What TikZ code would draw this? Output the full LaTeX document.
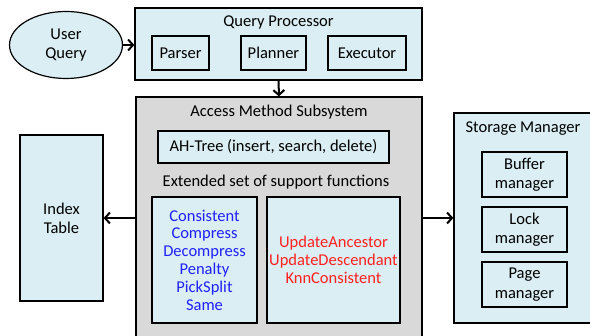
\documentclass[tikz,border=0pt]{standalone}
\usepackage{fontspec}
\setmainfont{Carlito}
\usetikzlibrary{arrows.meta}
\usetikzlibrary{shapes.geometric}
\usetikzlibrary{positioning}
\definecolor{paleblue}{HTML}{DAEEF3}
\definecolor{panelgray}{HTML}{D9D9D9}
\definecolor{fnblue}{HTML}{2020FF}
\definecolor{fnred}{HTML}{FF2020}

\begin{document}
\begin{tikzpicture}[x=1pt,y=-1pt,
	box/.style={draw,line width=1.2pt,fill=paleblue,inner sep=0pt,align=center},
	flow/.style={-{Straight Barb[length=5pt,width=11pt]},line width=2pt},
	font=\fontsize{16.5}{17.8}\selectfont]
	
	\clip (0,0) rectangle (590,336);
	
	\node [box,ellipse,minimum width=113,minimum height=67] (uq) at (66,45) {User\\[1pt]Query};
	
	\node [box,minimum width=287,minimum height=72] (qp) at (278.5,44) {};
	\node [] (qptitle) at (278.5,22) {Query Processor};
	\node [box,minimum width=57,minimum height=34] (parser) at (180.5,53) {Parser};
	\node [box,minimum width=65,minimum height=34] (planner) at (273.5,53) {Planner};
	\node [box,minimum width=78,minimum height=34] (executor) at (367,53) {Executor};
	
	\node [box,fill=panelgray,minimum width=286,minimum height=248] (ams) at (279,221) {};
	\node [] (amstitle) at (279,112) {Access Method Subsystem};
	\node [box,minimum width=231,minimum height=32] (ahtree) at (273.5,147) {AH-Tree (insert, search, delete)};
	\node [] (exttitle) at (276,182) {Extended set of support functions};
	\node [box,minimum width=105,minimum height=126,text=fnblue] (basefn) at (204.5,260)
		{Consistent\\Compress\\Decompress\\Penalty\\PickSplit\\Same};
	\node [box,minimum width=133,minimum height=126,text=fnred] (extfn) at (333.5,260)
		{UpdateAncestor\\UpdateDescendant\\KnnConsistent};
	
	\node [box,minimum width=83,minimum height=166] (idx) at (61.5,218) {Index\\[1.5pt]Table};
	
	\node [box,minimum width=141,minimum height=210] (sm) at (524.5,218) {};
	\node [] (smtitle) at (523,129) {Storage Manager};
	\node [box,minimum width=85,minimum height=45] (buffer) at (524.5,174.5) {Buffer\\[1.5pt]manager};
	\node [box,minimum width=85,minimum height=45] (lock) at (524.5,229.5) {Lock\\[1.5pt]manager};
	\node [box,minimum width=85,minimum height=45] (page) at (524.5,284.5) {Page\\[1.5pt]manager};
	
	\draw [flow] (uq.east) -- (qp.west |- uq.east);
	\draw [flow] (qp.south) -- (ams.north);
	\draw [flow] (ams.west |- idx) -- (idx.east);
	\draw [flow] (ams.east |- sm) -- (sm.west);
\end{tikzpicture}
\end{document}
